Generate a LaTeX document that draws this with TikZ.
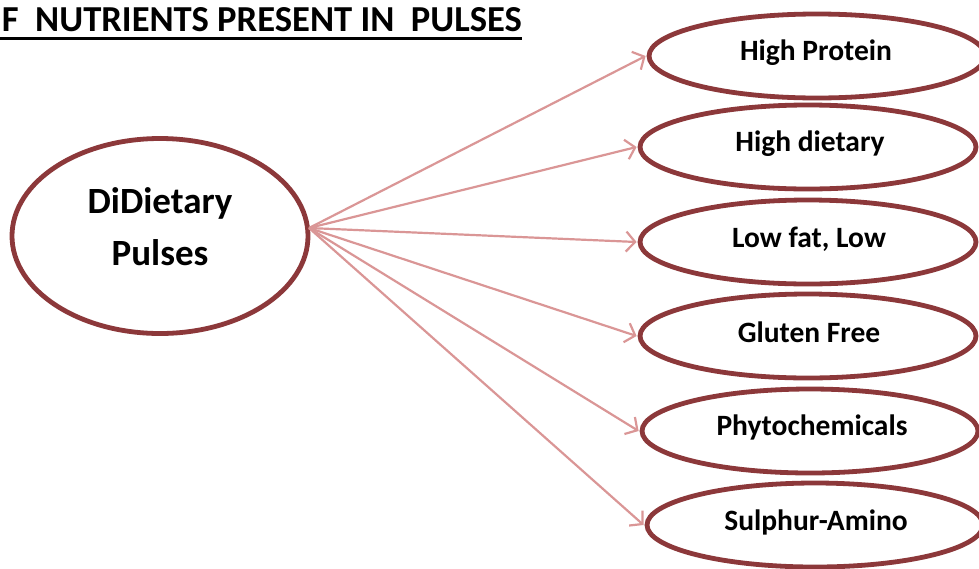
\documentclass[tikz,border=0pt]{standalone}
\usepackage{fontspec}
\setmainfont{Carlito}
\usetikzlibrary{shapes.geometric,arrows.meta}
\definecolor{ringred}{RGB}{140,56,58}
\definecolor{linkpink}{RGB}{218,150,150}
\begin{document}
\begin{tikzpicture}[x=1pt,y=-1pt,
  ring/.style={ellipse,draw=ringred,line width=4.8pt,fill=white,inner sep=0pt},
  small/.style={ring,minimum width=336pt,minimum height=84pt},
  lbl/.style={inner sep=0pt,font=\bfseries\fontsize{29.5}{32}\selectfont},
  link/.style={draw=linkpink,line width=2.2pt,-{Straight Barb[length=9pt,width=20pt,line width=2.2pt]}}]
\useasboundingbox (0,0) rectangle (979,568);
\node[anchor=base east,font=\bfseries\fontsize{36.6}{40}\selectfont,inner sep=0pt] (title) at (522,31) {F\ \ NUTRIENTS PRESENT IN\ \ PULSES};
\draw[line width=3pt] (0,38) -- (522,38);
\node[ring,minimum width=296pt,minimum height=195pt] (L) at (160,236) {};
\node[inner sep=0pt,font=\bfseries\fontsize{37}{52}\selectfont,align=center] (Lt) at (160,227) {DiDietary\\Pulses};
\coordinate (hub) at (309,228);
\node[small] (a) at (817,56) {};
\node[small] (b) at (808,147) {};
\node[small] (c) at (808,242) {};
\node[small] (d) at (808,336) {};
\node[small] (e) at (810,431) {};
\node[small] (f) at (815,525) {};
\node[lbl] (at) at (816,53) {High Protein};
\node[lbl] (bt) at (810,144) {High dietary};
\node[lbl] (ct) at (809,239) {Low fat, Low};
\node[lbl] (dt) at (809,332) {Gluten Free};
\node[lbl] (et) at (812,427) {Phytochemicals};
\node[lbl] (ft) at (816,522) {Sulphur-Amino};
\foreach \t in {a,b,c,d,e,f} \draw[link] (hub) -- ([xshift=-1pt]\t.west);
\end{tikzpicture}
\end{document}
